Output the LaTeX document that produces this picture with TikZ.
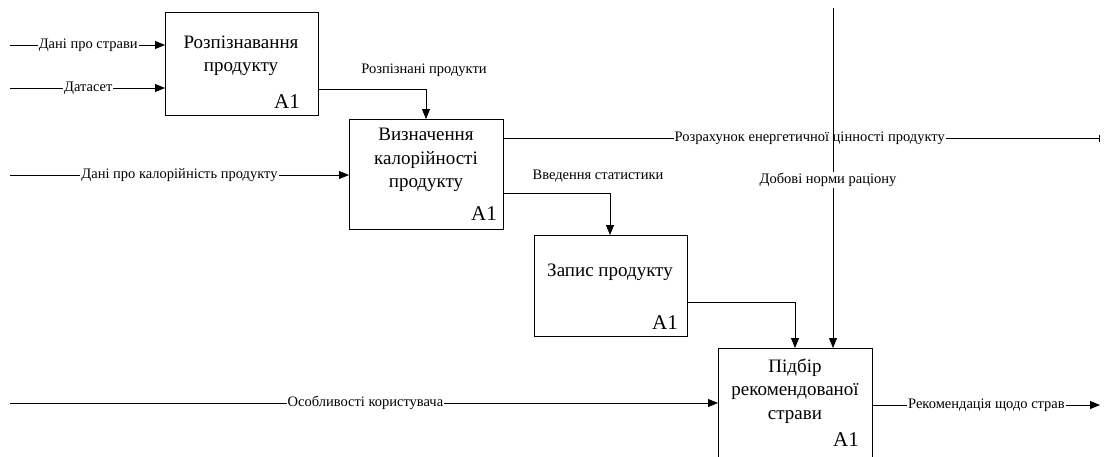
\documentclass[tikz,border=0pt]{standalone}
\usepackage{fontspec}
\setmainfont{Liberation Serif}
\usetikzlibrary{arrows.meta}
\begin{document}
\begin{tikzpicture}[x=1pt,y=-1pt,
  box/.style={draw, line width=0.9pt, rectangle, anchor=north west, inner sep=0pt},
  btext/.style={align=center, font=\fontsize{19}{23.5}\selectfont, inner sep=0pt},
  anum/.style={font=\fontsize{21}{22}\selectfont, inner sep=0pt},
  flow/.style={line width=0.8pt, -{Triangle[length=10pt,width=8pt]}},
  plain/.style={line width=0.8pt},
  lbl/.style={font=\fontsize{14.5}{16}\selectfont, fill=white, inner sep=1pt}]
\useasboundingbox (0,0) rectangle (1105,456);
\clip (0,0) rectangle (1105,456);
% boxes
\node[box, minimum width=153pt, minimum height=103pt] (b1) at (165,12) {};
\node[box, minimum width=154pt, minimum height=110pt] (b2) at (349,119) {};
\node[box, minimum width=153pt, minimum height=101pt] (b3) at (534,235) {};
\node[box, minimum width=154pt, minimum height=130pt] (b4) at (718,348) {};
% box texts
\node[btext] (t1) at (241,56) {Розпізнавання\\продукту};
\node[anum] (n1) at (287,102) {A1};
\node[btext] (t2) at (426,160) {Визначення\\калорійності\\продукту};
\node[anum] (n2) at (484,214) {A1};
\node[btext] (t3) at (610,272) {Запис продукту};
\node[anum] (n3) at (665,323) {A1};
\node[btext] (t4) at (795,391) {Підбір\\рекомендованої\\страви};
\node[anum] (n4) at (846,440) {A1};
% coordinates
\coordinate (i1) at (10,45);
\coordinate (i2) at (10,88);
\coordinate (i3) at (10,175);
\coordinate (i4) at (10,403);
\coordinate (o2) at (1100,138);
\coordinate (o4) at (1100,405);
\coordinate (c4) at (833,8);
% inputs
\draw[flow] (i1) -- (b1.west |- i1) node[lbl, pos=0.505] (l1) {Дані про страви};
\draw[flow] (i2) -- (b1.west |- i2) node[lbl, pos=0.505] (l2) {Датасет};
\draw[flow] (i3) -- (b2.west |- i3) node[lbl, pos=0.5] (l3) {Дані про калорійність продукту};
\draw[flow] (i4) -- (b4.west |- i4) node[lbl, pos=0.502] (l4) {Особливості користувача};
% box1 -> box2
\draw[flow] (b1.east |- 0,89) -| (426,119);
\node[lbl, fill=none] (l5) at (424,70) {Розпізнані продукти};
% box2 -> outside
\draw[plain, -{Bar[width=7pt,line width=1.4pt]}] (b2.east |- o2) -- (o2) node[lbl, pos=0.513] (l6) {Розрахунок енергетичної цінності продукту};
% box2 -> box3
\draw[flow] (b2.east |- 0,193) -| (610,235);
\node[lbl, fill=none] (l7) at (598,176) {Введення статистики};
% box3 -> box4
\draw[flow] (b3.east |- 0,302) -| (795,348);
% control
\draw[flow] (c4) -- (c4 |- b4.north);
\node[lbl] (l8) at (828,180) {Добові норми раціону};
% output
\draw[flow] (b4.east |- o4) -- (o4) node[lbl, pos=0.5] (l9) {Рекомендація щодо страв};
\end{tikzpicture}
\end{document}
